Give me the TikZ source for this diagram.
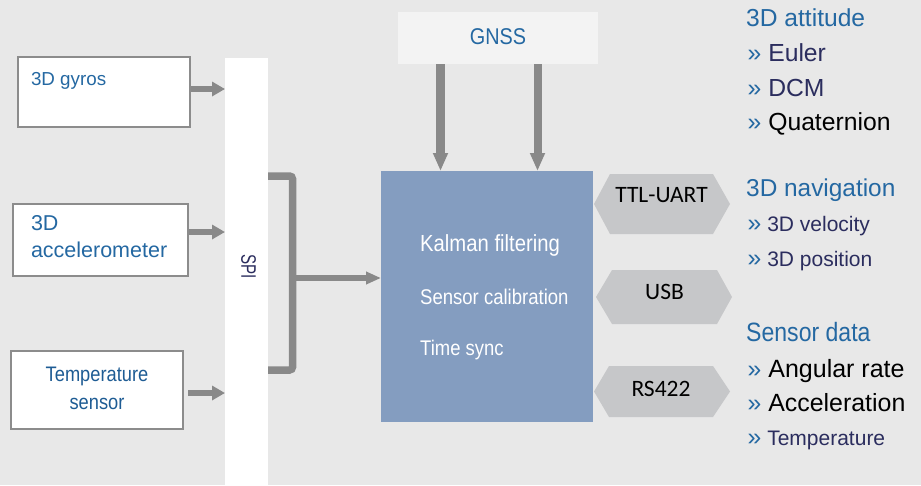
\documentclass[tikz,border=0pt]{standalone}
\usepackage{fontspec}
\setmainfont{Liberation Sans}
\newfontfamily\condensed{Liberation Sans}[FakeStretch=0.87]
\newfontfamily\calibrifont{Carlito}
\usetikzlibrary{arrows.meta,calc}

\definecolor{bgcol}{HTML}{E8E8E8}
\definecolor{boxgray}{HTML}{8C8C8C}
\definecolor{arrowgray}{HTML}{898989}
\definecolor{labelblue}{HTML}{2468A2}
\definecolor{darkblue}{HTML}{1E5C94}
\definecolor{navy}{HTML}{2B2D5E}
\definecolor{corefill}{HTML}{849DC0}
\definecolor{hexgray}{HTML}{C6C7C9}
\definecolor{gnssfill}{HTML}{F3F3F3}

\newcommand\fsz[1]{\fontsize{#1}{#1}\selectfont}
\newcommand\bul{{\fsz{24.7}\color{labelblue}»}\ }
% double-pointed interface tag around a flat rectangle node
\newcommand\hexfill[3]{\fill[hexgray] (#1.north west) -- (#1.north east) -- ([xshift=#3pt]#1.east) -- (#1.south east) -- (#1.south west) -- ([xshift=-#2pt]#1.west) -- cycle;}

\begin{document}
\begin{tikzpicture}[x=1pt,y=-1pt,
  sensorbox/.style={draw=boxgray,line width=2pt,fill=white,inner sep=0pt},
  fatarrow/.style={draw=arrowgray,line width=6.5pt,-{Triangle[length=13pt,width=14pt]}},
  gnssarrow/.style={draw=arrowgray,line width=8.5pt,-{Triangle[length=18pt,width=14pt]}},
  bus/.style={draw=arrowgray,line width=7.5pt,rounded corners=3pt},
  plain/.style={inner sep=0pt,outer sep=0pt},
  hexbox/.style={inner sep=0pt,outer sep=0pt,draw=none},
  hexlabel/.style={inner sep=0pt,font=\calibrifont\fsz{23.5},text=black},
  corelabel/.style={inner sep=0pt,anchor=base west,text=white},
  heading/.style={inner sep=0pt,anchor=base west,text=labelblue},
  item/.style={inner sep=0pt,anchor=base west}]

\fill[bgcol] (0,0) rectangle (921,485);
\useasboundingbox (0,0) rectangle (921,485);

% sensor boxes
\node[sensorbox,minimum width=172,minimum height=70] (gyros) at (104,92) {};
\node[plain,anchor=base west,text=labelblue,font=\fsz{18.8}] (gyrostext) at (31,85) {3D gyros};

\node[sensorbox,minimum width=175,minimum height=72] (accel) at (100.5,240) {};
\node[plain,anchor=base west,text=labelblue,font=\fsz{21.5}] (acceltext1) at (31,230) {3D};
\node[plain,anchor=base west,text=labelblue,font=\fsz{21.5}] (acceltext2) at (31,257) {accelerometer};

\node[sensorbox,minimum width=172,minimum height=78] (temp) at (97,390) {};
\node[plain,anchor=base,text=darkblue,font=\condensed\fsz{21}] (temptext1) at (97,381.5) {Temperature};
\node[plain,anchor=base,text=darkblue,font=\condensed\fsz{21}] (temptext2) at (97,409.5) {sensor};

% SPI bus bar
\node[plain,fill=white,minimum width=43,minimum height=427] (spi) at (246.5,271.5) {};
\node[plain,rotate=-90,text=navy] (spitext) at (248.7,267) {\scalebox{0.72}[1]{\fsz{21}SPI}};

% sensor links into the bus
\draw[fatarrow] ([yshift=3pt]gyros.east) -- ([yshift=3pt]gyros.east -| spi.west);
\draw[fatarrow] ([yshift=8pt]accel.east) -- ([yshift=8pt]accel.east -| spi.west);
\draw[fatarrow,shorten <=4pt] ([yshift=-3pt]temp.east) -- ([yshift=-3pt]temp.east -| spi.west);

% processing core
\node[plain,fill=corefill,minimum width=212,minimum height=251] (core) at (487,296.5) {};
\node[corelabel,font=\condensed\fsz{23.3}] (kalman) at (420,251) {Kalman filtering};
\node[corelabel,font=\condensed\fsz{21.3}] (calib) at (420,304) {Sensor calibration};
\node[corelabel,font=\condensed\fsz{21.2}] (tsync) at (420,355) {Time sync};

% bus bracket feeding the core
\coordinate (bt) at (292.5,176);
\coordinate (bb) at (292.5,370);
\coordinate (bm) at (292.5,278);
\draw[bus] (bt -| spi.east) -- (bt) -- (bb) -- (bb -| spi.east);
\draw[fatarrow,-{Triangle[length=15pt,width=12pt]}] (bm) -- (bm -| core.west);

% GNSS receiver
\node[plain,fill=gnssfill,minimum width=200,minimum height=52] (gnss) at (498,38) {};
\node[plain,text=labelblue,font=\condensed\fsz{22.8}] (gnsstext) at (498,36.7) {GNSS};
\coordinate (ga) at (440.5,0);
\coordinate (gb) at (537.5,0);
\draw[gnssarrow] (ga |- gnss.south) -- (ga |- core.north);
\draw[gnssarrow,line width=8pt] (gb |- gnss.south) -- (gb |- core.north);

% interfaces
\node[hexbox,minimum width=103,minimum height=60] (ttl) at (661.5,204) {};
\hexfill{ttl}{16}{17}
\node[hexlabel] (ttltext) at ([yshift=9pt]ttl.center) {TTL-UART};

\node[hexbox,minimum width=105,minimum height=54] (usb) at (664.5,297) {};
\hexfill{usb}{16}{15}
\node[hexlabel] (usbtext) at ([yshift=5pt]usb.center) {USB};

\node[hexbox,minimum width=104,minimum height=51] (rs) at (661,391.5) {};
\hexfill{rs}{15}{17}
\node[hexlabel] (rstext) at ([yshift=3pt]rs.center) {RS422};

% outputs
\node[heading,font=\fsz{24.6}] (att) at (746,26.7) {3D attitude};
\node[item,font=\fsz{24.7},text=navy] (euler) at (747.5,61) {\bul Euler};
\node[item,font=\fsz{24.7},text=navy] (dcm) at (747.5,96) {\bul DCM};
\node[item,font=\fsz{24.7},text=black] (quat) at (747.5,130.7) {\bul Quaternion};

\node[heading,font=\fsz{24.4}] (nav) at (746,196.7) {3D navigation};
\node[item,font=\fsz{21},text=navy] (vel) at (747.5,231.7) {\bul\fsz{21}3D velocity};
\node[item,font=\fsz{21},text=navy] (pos) at (747.5,266.7) {\bul\fsz{21}3D position};

\node[heading,font=\condensed\fsz{26.5}] (sens) at (746,341.7) {Sensor data};
\node[item,font=\fsz{25},text=black] (rate) at (747.5,377.3) {\bul Angular rate};
\node[item,font=\fsz{24.9},text=black] (acc) at (747.5,411.7) {\bul Acceleration};
\node[item,font=\fsz{21},text=navy] (tmp) at (747.5,445) {\bul\fsz{21}Temperature};
\end{tikzpicture}
\end{document}
